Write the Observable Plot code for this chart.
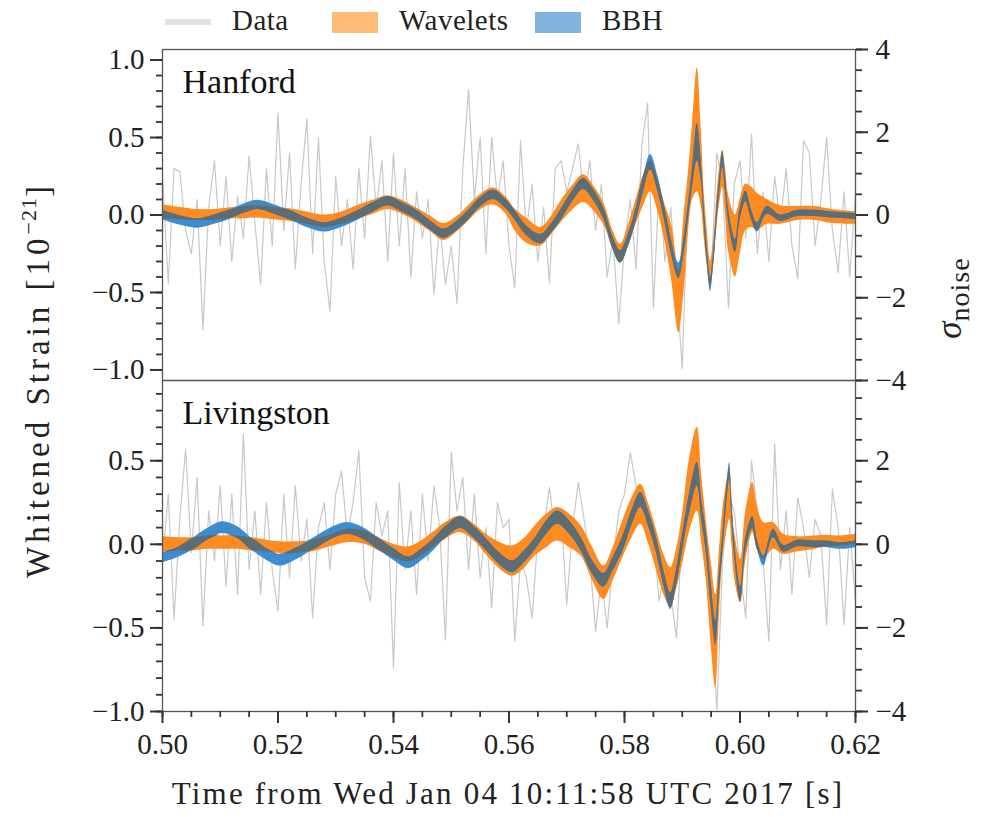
<!DOCTYPE html>
<html><head><meta charset="utf-8">
<script src="https://cdn.jsdelivr.net/npm/d3@7"></script>
<script src="https://cdn.jsdelivr.net/npm/@observablehq/plot@0.6"></script>
<style>
body{margin:0;background:#fff;font-family:"Liberation Serif","Times New Roman",Tinos,Times,"DejaVu Serif",serif;color:#222;}
#wrap{position:relative;width:983px;height:817px;overflow:hidden;background:#fff;}
.abs{position:absolute;white-space:nowrap;}
.leg{font-size:29px;top:4px;letter-spacing:0.5px;}
</style></head><body><div id="wrap"></div>
<script>
// ---------- data ----------
const xDomain = [0.50, 0.62];
const dataStart = 0.500, dataStep = 0.001;
const hanfordData = [0.25,-0.44,0.30,0.28,-0.10,-0.25,0.10,-0.74,0.05,0.35,
 -0.20,0.25,-0.30,0.12,-0.15,0.38,-0.05,-0.45,0.30,-0.20,
 0.66,-0.10,0.40,-0.35,0.20,0.62,-0.25,0.50,-0.30,-0.62,
 0.25,-0.20,0.10,-0.35,0.30,-0.15,0.51,0.05,0.35,-0.30,
 0.40,-0.20,0.30,-0.40,0.15,-0.15,0.10,-0.51,-0.05,-0.45,
 -0.20,-0.57,0.30,0.81,0.10,0.50,-0.25,0.50,0.10,0.35,
 -0.20,-0.47,0.48,-0.10,0.20,-0.30,0.05,-0.44,0.30,0.35,
 0.15,0.30,0.46,0.10,0.35,-0.10,0.20,-0.40,-0.15,-0.70,
 -0.20,0.10,-0.35,0.45,0.72,-0.60,0.20,-0.30,0.05,-0.45,
 -0.99,0.15,0.55,0.40,-0.20,-0.40,0.40,0.20,-0.60,0.20,
 0.35,-0.15,0.52,-0.25,0.15,-0.30,0.25,-0.05,0.30,-0.20,
 -0.41,0.48,0.40,-0.20,0.10,0.50,-0.10,-0.37,0.15,-0.40,0.15];
const livingstonData = [-0.10,0.30,-0.45,0.15,0.57,-0.05,0.40,-0.49,0.20,-0.10,
 0.35,-0.25,0.30,-0.30,0.66,-0.15,0.20,-0.30,0.25,-0.15,
 -0.40,0.30,-0.20,0.35,-0.10,0.15,-0.44,0.10,0.25,-0.15,
 0.30,0.44,0.05,0.25,0.56,-0.20,-0.34,0.25,0.05,0.20,
 -0.74,0.37,-0.15,0.20,-0.30,0.30,-0.10,0.35,0.10,-0.57,
 0.55,0.20,0.40,-0.15,0.30,-0.20,0.10,-0.38,0.25,0.10,
 0.15,-0.58,-0.10,-0.20,-0.44,0.05,0.10,0.34,0.05,0.20,
 -0.36,0.10,0.37,0.15,-0.10,-0.52,-0.20,-0.50,-0.10,0.20,
 0.30,0.55,0.35,0.30,0.15,0.05,-0.34,-0.15,-0.30,-0.56,
 0.10,0.38,0.20,0.46,0.10,-0.40,-0.99,-0.10,0.30,0.20,
 -0.15,-0.44,0.50,0.20,-0.10,-0.58,0.60,-0.15,0.20,-0.30,
 0.28,0.10,-0.20,0.15,0.05,-0.48,0.33,0.10,-0.48,0.10,-0.34];

const hanfordKnotT = [0.500,0.503,0.506,0.509,0.5115,0.514,0.5165,0.519,0.522,0.525,0.528,0.531,0.534,0.5365,0.539,0.5415,0.544,0.5465,0.5487,0.551,0.553,0.555,0.5573,0.5595,0.561,0.563,0.5655,0.5675,0.569,0.571,0.5729,0.5748,0.5765,0.578,0.5793,0.5808,0.582,0.5833,0.5845,0.5858,0.587,0.5882,0.5894,0.5903,0.591,0.5918,0.5926,0.5933,0.5938,0.5943,0.5949,0.5955,0.596,0.5965,0.597,0.5975,0.598,0.5992,0.600,0.601,0.602,0.603,0.6047,0.607,0.610,0.613,0.616,0.620];
const hanfordBbhMid  = [0.00,-0.035,-0.055,-0.03,0.00,0.04,0.065,0.04,0.00,-0.05,-0.08,-0.05,0.00,0.05,0.09,0.05,0.00,-0.07,-0.12,-0.07,0.00,0.08,0.13,0.07,0.00,-0.10,-0.155,-0.08,0.00,0.12,0.20,0.12,0.00,-0.18,-0.27,-0.15,0.00,0.20,0.34,0.20,0.00,-0.22,-0.36,-0.20,0.00,0.25,0.47,0.28,0.00,-0.25,-0.45,-0.25,0.00,0.20,0.36,0.20,0.00,-0.20,0.00,0.12,0.00,-0.08,0.03,-0.02,0.01,0.01,0.00,-0.01];
const hanfordBbhHalf = [0.03,0.03,0.03,0.03,0.03,0.03,0.03,0.03,0.03,0.03,0.03,0.03,0.03,0.03,0.03,0.03,0.03,0.03,0.03,0.03,0.03,0.03,0.03,0.03,0.03,0.03,0.03,0.03,0.035,0.035,0.035,0.035,0.035,0.04,0.04,0.04,0.04,0.05,0.05,0.05,0.045,0.045,0.05,0.05,0.05,0.06,0.12,0.06,0.05,0.05,0.045,0.045,0.045,0.05,0.05,0.045,0.04,0.04,0.035,0.035,0.03,0.03,0.025,0.02,0.02,0.02,0.02,0.02];
const hanfordWavMid  = [0.02,0.01,0.00,0.00,0.01,0.015,0.02,0.01,0.00,-0.02,-0.04,-0.02,0.02,0.05,0.08,0.05,0.00,-0.06,-0.11,-0.06,0.01,0.08,0.12,0.06,-0.03,-0.10,-0.14,-0.06,0.02,0.11,0.17,0.10,0.00,-0.16,-0.25,-0.12,0.02,0.16,0.25,0.12,-0.05,-0.25,-0.56,-0.25,0.05,0.35,0.55,0.30,0.00,-0.20,-0.38,-0.22,0.02,0.20,0.30,0.15,-0.05,-0.20,-0.08,0.05,0.05,0.02,0.02,0.00,0.01,0.01,-0.01,-0.02];
const hanfordWavHalf = [0.045,0.04,0.035,0.035,0.035,0.04,0.04,0.04,0.04,0.04,0.04,0.04,0.045,0.045,0.045,0.045,0.045,0.05,0.055,0.05,0.05,0.05,0.055,0.055,0.07,0.08,0.06,0.06,0.07,0.08,0.09,0.08,0.07,0.06,0.06,0.07,0.08,0.10,0.10,0.10,0.12,0.18,0.20,0.25,0.20,0.25,0.40,0.25,0.15,0.12,0.08,0.08,0.10,0.12,0.12,0.15,0.18,0.20,0.18,0.15,0.13,0.12,0.08,0.06,0.045,0.045,0.045,0.04];

const livingstonKnotT = [0.500,0.5026,0.5052,0.5078,0.5104,0.513,0.5155,0.518,0.5204,0.523,0.526,0.529,0.532,0.535,0.5375,0.540,0.5426,0.545,0.547,0.549,0.5516,0.554,0.556,0.5585,0.5606,0.5625,0.5645,0.5665,0.5684,0.5705,0.5725,0.5745,0.5764,0.578,0.5797,0.5813,0.5828,0.5842,0.5855,0.5868,0.588,0.589,0.590,0.5913,0.5926,0.5934,0.5942,0.595,0.5958,0.5964,0.597,0.5976,0.5982,0.5986,0.599,0.6001,0.601,0.6022,0.603,0.6041,0.6058,0.6075,0.610,0.613,0.615,0.6175,0.620];
const livingstonBbhMid  = [-0.08,-0.05,0.00,0.06,0.10,0.07,0.00,-0.06,-0.095,-0.06,0.00,0.06,0.095,0.06,0.00,-0.06,-0.11,-0.06,0.00,0.07,0.13,0.07,0.00,-0.09,-0.135,-0.08,0.00,0.10,0.16,0.10,0.00,-0.14,-0.215,-0.12,0.00,0.16,0.265,0.15,0.00,-0.20,-0.34,-0.20,0.00,0.25,0.42,0.20,0.00,-0.30,-0.53,-0.25,0.00,0.25,0.44,0.20,0.00,-0.30,0.00,0.13,0.00,-0.10,0.065,-0.025,0.005,0.00,0.00,-0.01,0.00];
const livingstonBbhHalf = [0.03,0.03,0.035,0.035,0.035,0.035,0.035,0.035,0.035,0.035,0.035,0.035,0.035,0.035,0.035,0.035,0.035,0.035,0.035,0.035,0.035,0.035,0.035,0.035,0.035,0.035,0.035,0.04,0.04,0.04,0.04,0.04,0.04,0.04,0.045,0.045,0.045,0.045,0.045,0.045,0.05,0.05,0.05,0.06,0.07,0.06,0.06,0.07,0.07,0.06,0.05,0.05,0.05,0.05,0.045,0.045,0.04,0.035,0.03,0.03,0.025,0.02,0.02,0.02,0.02,0.02,0.02];
const livingstonWavMid  = [0.00,0.00,0.00,0.01,0.01,0.01,0.00,-0.01,-0.02,-0.02,-0.01,0.02,0.05,0.04,0.00,-0.04,-0.06,-0.02,0.03,0.08,0.12,0.07,0.00,-0.07,-0.10,-0.06,0.02,0.08,0.12,0.08,0.02,-0.12,-0.23,-0.12,0.03,0.16,0.24,0.12,-0.03,-0.18,-0.26,-0.15,0.02,0.30,0.45,0.20,-0.05,-0.35,-0.58,-0.25,0.05,0.20,0.30,0.15,-0.05,-0.22,0.05,0.22,0.10,0.02,0.05,0.00,0.00,0.01,0.02,0.02,0.03];
const livingstonWavHalf = [0.045,0.04,0.04,0.04,0.04,0.04,0.04,0.035,0.035,0.035,0.035,0.035,0.04,0.04,0.04,0.04,0.045,0.045,0.045,0.05,0.05,0.05,0.06,0.08,0.09,0.09,0.09,0.10,0.10,0.10,0.09,0.10,0.10,0.10,0.11,0.12,0.12,0.12,0.12,0.12,0.12,0.12,0.15,0.22,0.25,0.20,0.18,0.25,0.28,0.20,0.15,0.15,0.15,0.15,0.14,0.13,0.15,0.15,0.13,0.11,0.08,0.06,0.045,0.04,0.035,0.03,0.03];

const xTicks = [0.50,0.52,0.54,0.56,0.58,0.60,0.62];
const xMinorStep = 0.005;
const strainTicks = [-1.0,-0.5,0.0,0.5,1.0];
const strainMinorStep = 0.1;
const sigmaTicks = [-4,-2,0,2,4];
const sigmaMinorStep = 0.5;
const panelNames = ["Hanford","Livingston"];
const legendLabels = ["Data","Wavelets","BBH"];
const xLabel = "Time from Wed Jan 04 10:11:58 UTC 2017 [s]";

// ---------- helpers ----------
const FONT = "'Liberation Serif','Times New Roman',Tinos,Times,'DejaVu Serif',serif";
const C = {data:"#c8c8c8", wav:"#fd8b22", bbh:"#3d8cce", both:"#5d6d74", axis:"#333"};
const minus = s => s.replace("-", "\u2212");
const fmt1 = v => minus(Math.abs(v) < 1e-9 ? "0.0" : v.toFixed(1));
const fmtInt = v => minus(String(Math.round(v)));
const rangeStep = (a, b, s) => d3.range(Math.round((b - a) / s) + 1).map(i => +(a + i * s).toFixed(6));

function series(values) {
  return values.map((v, i) => ({t: dataStart + i * dataStep, v}));
}
function bands(T, bm, bh, wm, wh) {
  return T.map((t, i) => {
    const bLo = bm[i] - bh[i], bHi = bm[i] + bh[i];
    const wLo = wm[i] - wh[i], wHi = wm[i] + wh[i];
    let oLo = Math.max(bLo, wLo), oHi = Math.min(bHi, wHi);
    if (oLo > oHi) { const m = (oLo + oHi) / 2; oLo = m; oHi = m; }
    return {t, bLo, bHi, wLo, wHi, oLo, oHi};
  });
}

function panel({name, nameSize, data, band, yDomain, sigmaPerStrain, top, height, marginTop, marginBottom, showX}) {
  const k = sigmaPerStrain;
  const marks = [
    Plot.line(data, {x: "t", y: "v", stroke: C.data, strokeWidth: 1.2, clip: true}),
    Plot.areaY(band, {x: "t", y1: "wLo", y2: "wHi", fill: C.wav, curve: "catmull-rom", clip: true}),
    Plot.areaY(band, {x: "t", y1: "bLo", y2: "bHi", fill: C.bbh, curve: "catmull-rom", clip: true}),
    Plot.areaY(band, {x: "t", y1: "oLo", y2: "oHi", fill: C.both, curve: "catmull-rom", clip: true}),
    Plot.frame({stroke: "#555", strokeWidth: 1.3}),
    Plot.axisY({ticks: strainTicks.filter(v => v >= yDomain[0] - 1e-9 && v <= yDomain[1] + 1e-9), tickSize: 12, tickPadding: 6, tickFormat: fmt1, stroke: C.axis, strokeWidth: 2, fontSize: 29, label: null}),
    Plot.axisY({ticks: rangeStep(-1, 1, strainMinorStep).filter(v => v >= yDomain[0] && v <= yDomain[1]), tickSize: 6, tickFormat: () => "", stroke: C.axis, strokeWidth: 1.8, label: null}),
    Plot.axisY({anchor: "right", ticks: sigmaTicks.map(s => s / k).filter(v => v >= yDomain[0] - 1e-6 && v <= yDomain[1] + 1e-6), tickSize: 12, tickPadding: 8, tickFormat: v => fmtInt(v * k), stroke: C.axis, strokeWidth: 2, fontSize: 29, label: null}),
    Plot.axisY({anchor: "right", ticks: rangeStep(-4, 4, sigmaMinorStep).map(s => s / k).filter(v => v >= yDomain[0] - 1e-6 && v <= yDomain[1] + 1e-6), tickSize: 6, tickFormat: () => "", stroke: C.axis, strokeWidth: 1.8, label: null}),
    Plot.text([name], {frameAnchor: "top-left", textAnchor: "start", lineAnchor: "top", dx: 20, dy: 19, fontSize: nameSize, fill: "#111"})
  ];
  if (showX) {
    marks.push(Plot.axisX({ticks: xTicks, tickSize: 12, tickPadding: 10, tickFormat: v => v.toFixed(2), stroke: C.axis, strokeWidth: 2, fontSize: 29, label: null}));
    marks.push(Plot.axisX({ticks: rangeStep(0.5, 0.62, xMinorStep), tickSize: 6, tickFormat: () => "", stroke: C.axis, strokeWidth: 1.8, label: null}));
  }
  const svg = Plot.plot({
    width: 983, height, marginLeft: 162, marginRight: 128, marginTop, marginBottom,
    x: {domain: xDomain, axis: showX ? undefined : null},
    y: {domain: yDomain},
    style: {fontFamily: FONT, fontSize: "29px", color: "#222", background: "transparent", overflow: "visible"},
    marks
  });
  svg.style.position = "absolute";
  svg.style.left = "0px";
  svg.style.top = top + "px";
  svg.style.fontFamily = FONT;
  return svg;
}

const wrap = document.getElementById("wrap");

wrap.appendChild(panel({
  name: panelNames[0], nameSize: 34, data: series(hanfordData),
  band: bands(hanfordKnotT, hanfordBbhMid, hanfordBbhHalf, hanfordWavMid, hanfordWavHalf),
  yDomain: [-1.068, 1.068], sigmaPerStrain: 4 / 1.068,
  top: 44, height: 340, marginTop: 5, marginBottom: 4, showX: false
}));
wrap.appendChild(panel({
  name: panelNames[1], nameSize: 34, data: series(livingstonData),
  band: bands(livingstonKnotT, livingstonBbhMid, livingstonBbhHalf, livingstonWavMid, livingstonWavHalf),
  yDomain: [-1.0, 0.98], sigmaPerStrain: 4,
  top: 375, height: 442, marginTop: 5, marginBottom: 106, showX: true
}));

// legend
const legend = [
  {label: legendLabels[0], x: 165, kind: "line", color: "#e2e2e2"},
  {label: legendLabels[1], x: 332, kind: "rect", color: "#ffbb78"},
  {label: legendLabels[2], x: 535, kind: "rect", color: "#80b4df"}
];
legend.forEach(d => {
  const sw = document.createElement("div");
  sw.className = "abs";
  sw.style.left = d.x + "px";
  sw.style.width = "46px";
  if (d.kind === "line") { sw.style.top = "19px"; sw.style.height = "6px"; }
  else { sw.style.top = "12px"; sw.style.height = "21px"; }
  sw.style.background = d.color;
  wrap.appendChild(sw);
  const t = document.createElement("div");
  t.className = "abs leg";
  t.style.left = (d.x + 67) + "px";
  t.textContent = d.label;
  wrap.appendChild(t);
});

// axis titles
const xl = document.createElement("div");
xl.className = "abs";
xl.style.cssText += "left:508px;top:776px;transform:translateX(-50%);font-size:31px;letter-spacing:2.2px;";
xl.textContent = xLabel;
wrap.appendChild(xl);

const yl = document.createElement("div");
yl.className = "abs";
yl.style.cssText += "left:38px;top:380px;transform:translate(-50%,-50%) rotate(-90deg);font-size:33px;letter-spacing:4px;";
yl.innerHTML = "Whitened Strain [10<sup style='font-size:22px;vertical-align:0;position:relative;top:-13px;letter-spacing:1px'>\u221221</sup>]";
wrap.appendChild(yl);

const yr = document.createElement("div");
yr.className = "abs";
yr.style.cssText += "left:950px;top:298px;transform:translate(-50%,-50%) rotate(-90deg);font-size:35px;line-height:1.6;padding:0 4px;";
yr.innerHTML = "<i>\u03c3</i><sub style='font-size:28px;vertical-align:0;position:relative;top:8px;letter-spacing:1px'>noise</sub>";
wrap.appendChild(yr);
</script></body></html>
